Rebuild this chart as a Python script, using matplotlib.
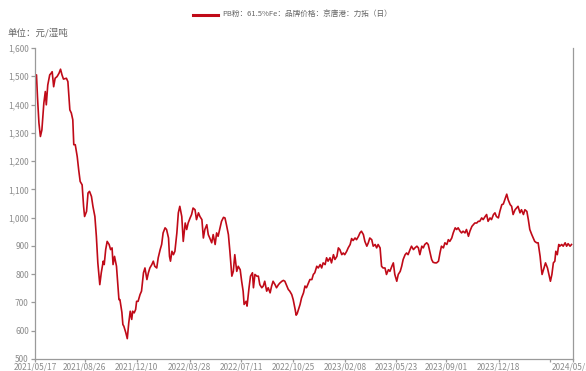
import matplotlib
matplotlib.use("Agg")
import matplotlib.pyplot as plt
import matplotlib.ticker as mticker
import pandas as pd

plt.rcParams['font.family'] = ['Noto Sans CJK SC', 'DejaVu Sans']

start_date = "2021-05-17"
end_date = "2024-05-17"

# days since start_date
day_offsets = [
    0, 3, 5, 8, 11, 14, 18, 21, 23, 26, 30, 33, 35, 38, 41, 45, 49, 52, 55, 58, 64, 67, 71, 74, 77, 79, 82, 86, 89, 92,
    96, 99, 101, 105, 108, 111, 115, 118, 122, 125, 128, 132, 135, 139, 141, 144, 147, 151, 154, 157, 159, 162, 166, 169, 171,
    173, 177, 179, 181, 185, 188, 191, 194, 197, 199, 202, 205, 207, 210, 214, 217, 221, 224, 228, 231, 234, 238, 241, 244,
    248, 251, 255, 258, 261, 265, 268, 272, 274, 276, 279, 282, 285, 289, 292, 295, 299, 302, 306, 309, 312, 316, 319, 322,
    326, 329, 333, 336, 340, 343, 346, 350, 353,
    356, 360, 363, 367, 370, 373, 377, 380, 384, 387, 390, 394, 397, 401, 404, 407, 411, 414, 418, 421, 424, 426, 430, 432,
    436, 439, 443, 445, 448, 452, 455, 458, 462, 465, 468, 472, 475, 479, 482, 485, 489, 492, 496, 499, 503, 506, 509, 513,
    516, 519, 523, 526, 530, 532, 534,
    540, 543, 547, 550, 553, 557, 560, 564, 567, 570, 574, 577, 581, 584, 587, 591, 594, 597, 601, 604, 608, 611, 615, 618,
    621, 625, 628, 631, 635, 638, 642, 645, 648, 652, 655, 659, 662, 665, 669, 672, 676, 679, 682, 686, 689, 693, 696, 699,
    703, 706, 709, 713, 716, 720,
    723, 727, 730, 733, 737, 740, 744, 747, 750, 754, 757, 760, 764, 767, 771, 774, 778, 781, 784, 788, 791, 794, 798, 801,
    805, 808, 811, 815, 818, 822, 825, 828, 832, 835, 839, 842, 845, 849, 852, 856, 859, 862, 866, 869, 872, 876, 879, 883,
    886, 890, 893, 896, 900, 903,
    906, 910, 913, 917, 920, 923, 927, 930, 934, 937, 940, 944, 947, 951, 954, 957, 961, 964, 968, 971, 974, 978, 981, 984,
    988, 991, 995, 998, 1002, 1005, 1008, 1012, 1015, 1018, 1022, 1025, 1029, 1031, 1033, 1037, 1040, 1044, 1047, 1050, 1053,
    1056, 1059, 1061, 1064, 1067, 1069, 1073, 1076, 1080, 1083, 1086, 1090, 1093,
]

prices = [
    1500, 1505, 1428, 1335, 1287, 1310, 1405, 1446, 1399, 1469, 1505, 1511, 1516, 1463, 1493, 1499, 1511, 1525, 1505, 1490,
    1493, 1481, 1381, 1370, 1346, 1258, 1258, 1216, 1169, 1128,
    1116, 1040, 1004, 1022, 1087, 1093, 1075, 1040, 1004, 934, 840, 763, 805, 846, 834, 887, 916, 905, 887, 893, 834, 863,
    828, 758, 710,
    710, 665, 622, 616, 593, 572, 628, 669, 640, 669, 663, 675, 704, 704, 728, 740, 805, 822, 781, 805, 822, 834, 846, 828,
    822, 858, 887, 905, 946, 964, 958, 928, 863, 846, 881, 869, 881, 946, 1017, 1040, 1004, 916, 981, 958, 981, 999, 1011,
    1034, 1028, 993, 1017, 1004, 993, 928, 958, 975, 940,
    928, 911, 940, 905, 946, 934, 964, 987, 1001, 999, 975, 940, 881, 793, 810, 869, 810, 828, 816, 775, 740, 693, 704, 687,
    752, 793, 805, 752, 799, 793, 793, 763, 752, 758, 775, 740, 752, 734, 758, 775, 763, 752, 763, 769, 775, 778, 775, 758,
    746, 740, 728, 710, 675, 655, 660,
    693, 716, 734, 758, 752, 769, 781, 781, 799, 805, 828, 822, 834, 822, 840, 834, 858, 846, 858, 840, 869, 852, 863, 893,
    887, 869, 875, 869, 881, 893, 905, 926, 919, 928, 922, 934, 946, 952, 940, 916, 899, 911, 928, 922, 899, 905, 893, 905,
    893, 828, 822, 822, 799, 816,
    810, 828, 840, 799, 775, 799, 810, 828, 852, 869, 875, 869, 887, 899, 887, 893, 899, 893, 869, 899, 893, 905, 911, 905,
    875, 852, 842, 840, 840, 846, 875, 899, 893, 911, 905, 922, 916, 928, 946, 964, 958, 964, 952, 946, 952, 946, 958, 934,
    952, 969, 975, 981, 981, 987,
    987, 999, 993, 1004, 1011, 987, 999, 993, 1011, 1017, 1004, 999, 1022, 1046, 1048, 1063, 1083, 1063, 1046, 1040, 1011,
    1028, 1034, 1040, 1017, 1028, 1011, 1028, 1022, 993, 958, 940, 928, 916, 911, 911, 863, 828, 799, 822, 840, 822, 799,
    775, 799, 840, 846, 881, 869, 905, 899, 905, 899, 911, 899, 908, 899, 905,
]

tick_dates = ["2021-05-17", "2021-08-26", "2021-12-10", "2022-03-28", "2022-07-11", "2022-10-25",
              "2023-02-08", "2023-05-23", "2023-09-01", "2023-12-18", "2024-04-01", "2024-05-17"]
tick_labels = ["2021/05/17", "2021/08/26", "2021/12/10", "2022/03/28", "2022/07/11", "2022/10/25",
               "2023/02/08", "2023/05/23", "2023/09/01", "2023/12/18", "", "2024/05/17"]

series_name = "PB粉：61.5%Fe：品牌价格：京唐港：力拓（日）"
unit_text = "单位：元/湿吨"

dates = pd.to_datetime(start_date) + pd.to_timedelta(day_offsets, unit="D")

W, H = 586, 371
fig = plt.figure(figsize=(W / 100, H / 100), dpi=100)
ax = fig.add_axes([35 / W, 1 - 359 / H, (573 - 35) / W, (359 - 48) / H])

line_color = "#C00A18"
axis_color = "#9a9a9a"
text_color = "#8c8c8c"

ax.plot(dates, prices, color=line_color, lw=1.2, solid_joinstyle="round")

ax.set_xlim(pd.to_datetime(start_date), pd.to_datetime(end_date))
ax.set_ylim(500, 1600)
ax.yaxis.set_major_locator(mticker.MultipleLocator(100))
ax.yaxis.set_major_formatter(mticker.FuncFormatter(lambda v, p: f"{int(v):,}"))
ax.set_xticks(pd.to_datetime(tick_dates))
ax.set_xticklabels(tick_labels)

ax.spines["top"].set_visible(False)
for s in ["left", "bottom", "right"]:
    ax.spines[s].set_color(axis_color)
    ax.spines[s].set_linewidth(0.9)

ax.tick_params(axis="both", colors=axis_color, labelcolor=text_color, width=0.9)
ax.tick_params(axis="x", labelsize=6, pad=0, length=2.5)
ax.tick_params(axis="y", labelsize=6, pad=1.5, length=3)

# legend
fig.lines.append(plt.Line2D([193 / W, 218 / W], [1 - 15 / H, 1 - 15 / H], color=line_color, lw=2.2,
                            transform=fig.transFigure))
fig.text(222 / W, 1 - 15 / H, series_name, fontsize=5.5, color="#666666", va="center", ha="left")
fig.text(8 / W, 1 - 33 / H, unit_text, fontsize=6.8, color="#666666", va="center", ha="left")

fig.savefig("out.png", dpi=100)
